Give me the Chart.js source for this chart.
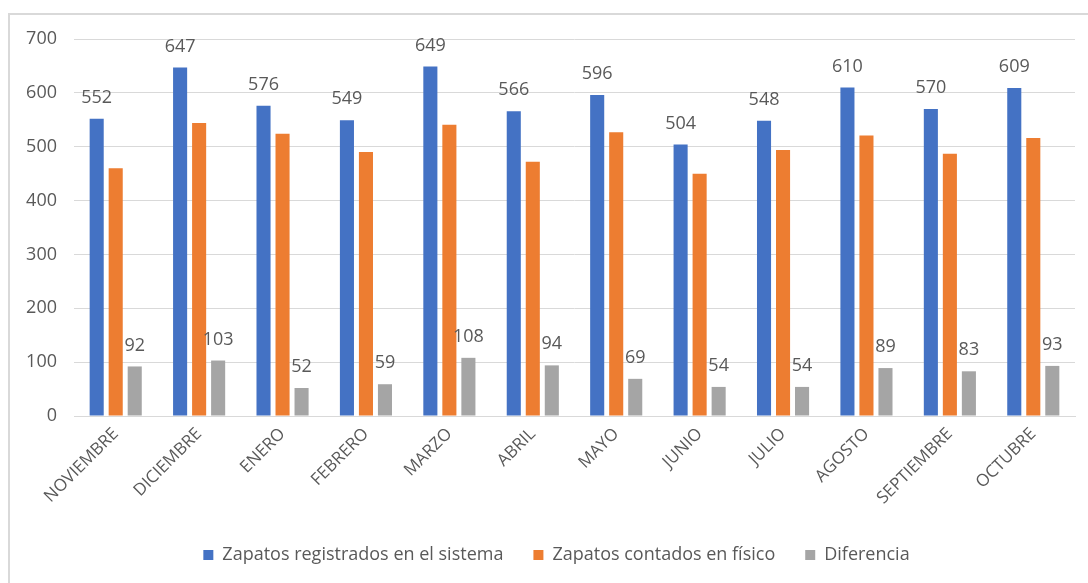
<!DOCTYPE html>
<html>
<head>
<meta charset="utf-8">
<script src="https://cdn.jsdelivr.net/npm/chart.js@4/dist/chart.umd.min.js"></script>
<style>
	html, body { margin: 0; padding: 0; background: #fff; }
	.frame { position: absolute; left: 8px; top: 13px; width: 1100px; height: 600px; border: 2px solid #d9d9d9; box-sizing: border-box; }
	.wrap { position: absolute; left: 0; top: 0; width: 1088px; height: 583px; }
</style>
</head>
<body>
<div class="frame"></div>
<div class="wrap"><canvas id="chart"></canvas></div>
<script>
const months = ['NOVIEMBRE', 'DICIEMBRE', 'ENERO', 'FEBRERO', 'MARZO', 'ABRIL', 'MAYO', 'JUNIO', 'JULIO', 'AGOSTO', 'SEPTIEMBRE', 'OCTUBRE'];
const registrados = [552, 647, 576, 549, 649, 566, 596, 504, 548, 610, 570, 609];
const contados = [460, 544, 524, 490, 541, 472, 527, 450, 494, 521, 487, 516];
const diferencia = [92, 103, 52, 59, 108, 94, 69, 54, 54, 89, 83, 93];
const yTicks = [0, 100, 200, 300, 400, 500, 600, 700];

const fontFamily = '"Open Sans", "Noto Sans", sans-serif';
const textColor = '#595959';

// labels above the blue and grey bars only
const valueLabels = {
	id: 'valueLabels',
	afterLayout(chart) {
		// legend sits a little right of centre in the original
		if (chart.legend) {
			chart.legend.left += 19;
			chart.legend.right += 19;
		}
	},
	afterDatasetsDraw(chart) {
		const ctx = chart.ctx;
		ctx.save();
		ctx.font = '18px ' + fontFamily;
		ctx.fillStyle = textColor;
		ctx.textAlign = 'center';
		ctx.textBaseline = 'middle';
		[0, 2].forEach((i) => {
			const meta = chart.getDatasetMeta(i);
			meta.data.forEach((bar, j) => {
				ctx.fillText(String(chart.data.datasets[i].data[j]), bar.x, bar.y - 21);
			});
		});
		ctx.restore();
	},
};

new Chart(document.getElementById('chart'), {
	type: 'bar',
	data: {
		labels: months,
		datasets: [
			{ label: 'Zapatos registrados en el sistema', data: registrados, backgroundColor: '#4472c4' },
			{ label: 'Zapatos contados en físico', data: contados, backgroundColor: '#ed7d31' },
			{ label: 'Diferencia', data: diferencia, backgroundColor: '#a5a5a5' },
		],
	},
	options: {
		responsive: true,
		maintainAspectRatio: false,
		animation: false,
		categoryPercentage: 0.684,
		barPercentage: 0.74,
		layout: { padding: { left: 0, right: 13, top: 39, bottom: 9 } },
		plugins: {
			tooltip: { enabled: false },
			legend: {
				position: 'bottom',
				labels: {
					boxWidth: 10,
					boxHeight: 10,
					padding: 30,
					color: textColor,
					font: { family: fontFamily, size: 18 },
				},
			},
		},
		scales: {
			x: {
				grid: { display: false, drawTicks: false },
				border: { color: '#d9d9d9', width: 1 },
				ticks: {
					color: textColor,
					font: { family: fontFamily, size: 17 },
					minRotation: 45,
					maxRotation: 45,
					padding: 8,
				},
				afterFit: (scale) => { scale.height = 100; },
			},
			y: {
				min: 0,
				max: 700,
				afterBuildTicks: (scale) => { scale.ticks = yTicks.map((v) => ({ value: v })); },
				grid: { color: '#d9d9d9', lineWidth: 1, drawTicks: false },
				border: { display: false },
				ticks: {
					color: textColor,
					font: { family: fontFamily, size: 18 },
					padding: 17,
				},
				afterFit: (scale) => { scale.width = 74; },
			},
		},
	},
	plugins: [valueLabels],
});
</script>
</body>
</html>
